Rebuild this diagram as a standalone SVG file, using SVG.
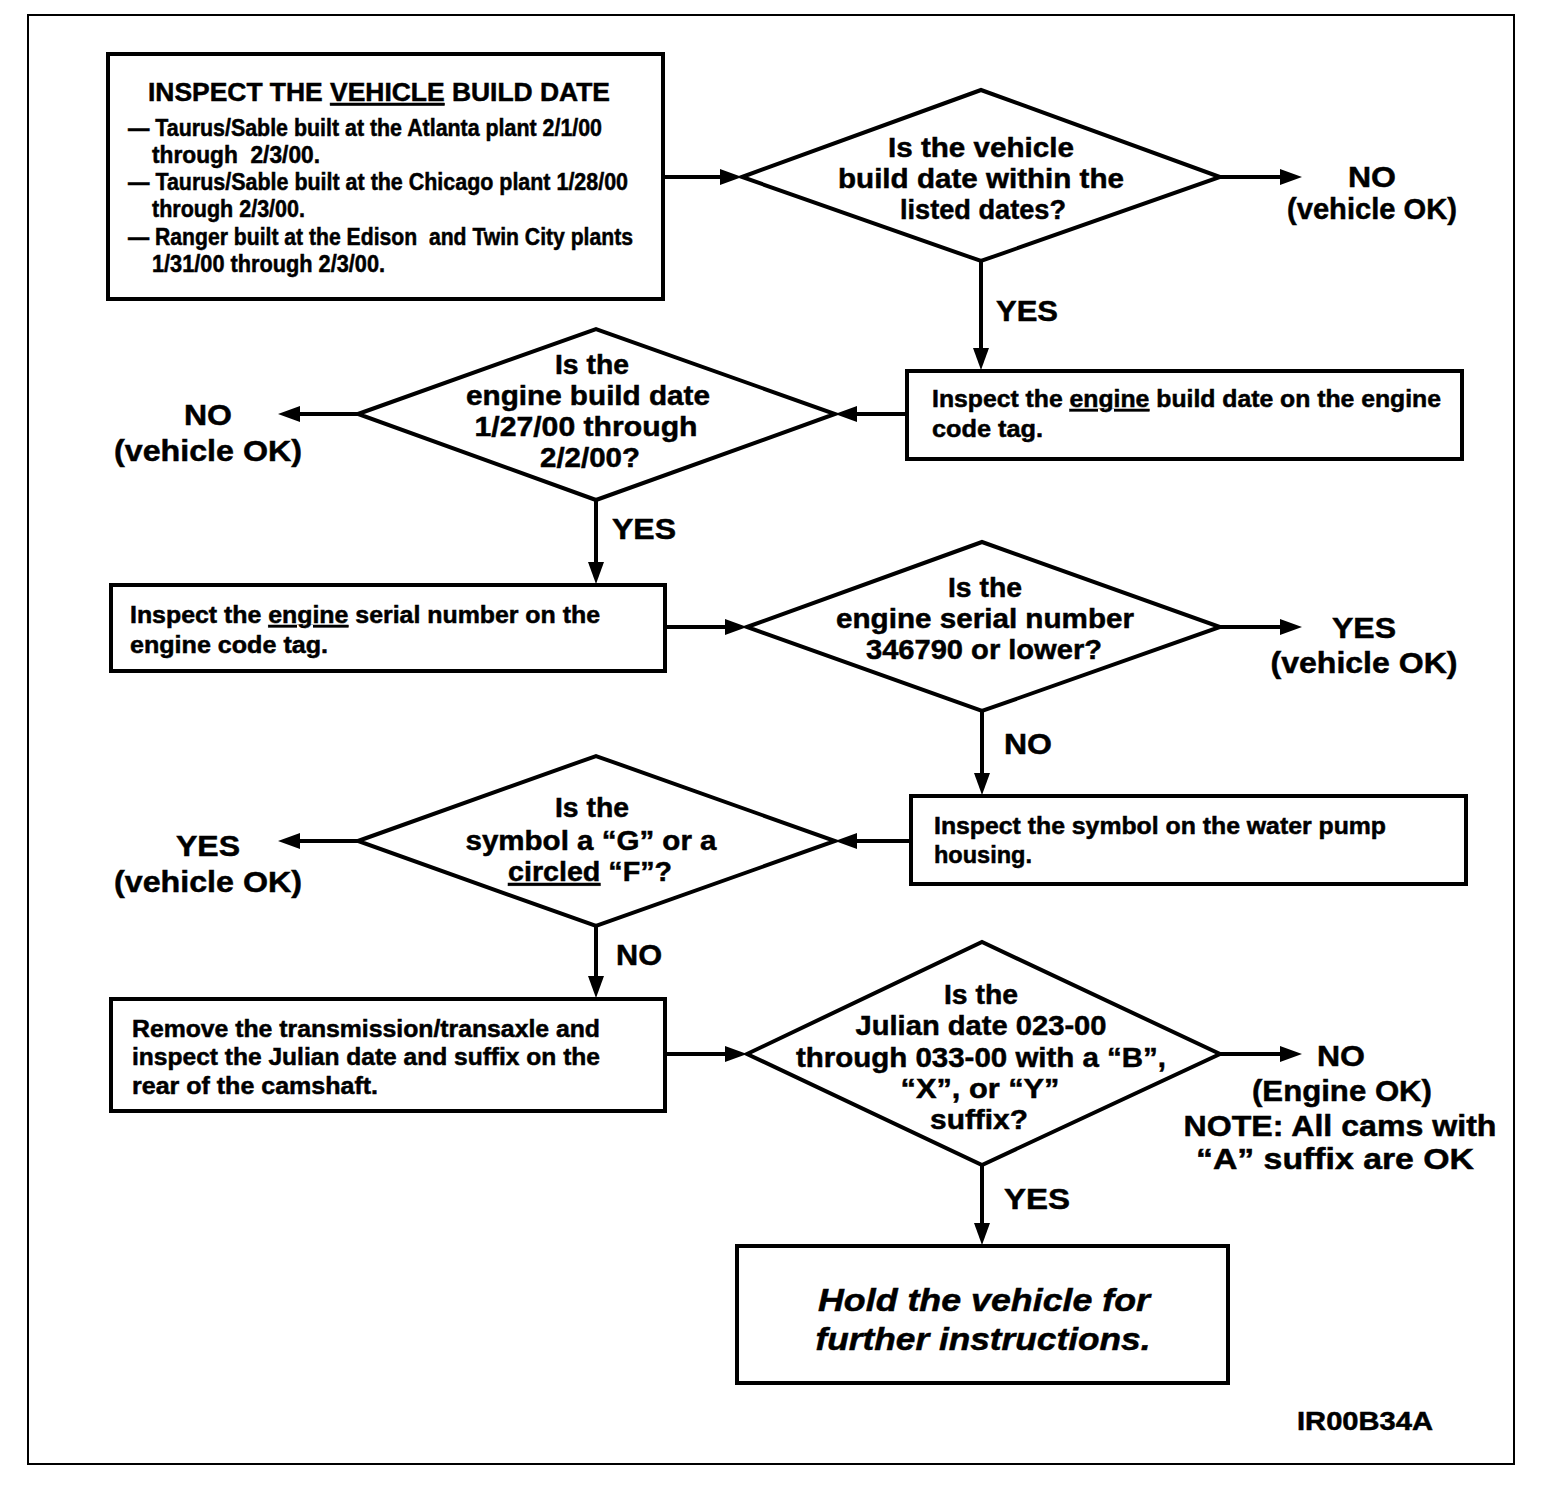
<svg xmlns="http://www.w3.org/2000/svg" width="1568" height="1498" viewBox="0 0 1568 1498">
<style>
.frame{fill:none;stroke:#000;stroke-width:2}
.box{fill:#fff;stroke:#000;stroke-width:4}
.dia{fill:#fff;stroke:#000;stroke-width:4;stroke-linejoin:miter}
.con{fill:none;stroke:#000;stroke-width:4}
text{font-family:"Liberation Sans",Arial,sans-serif;font-weight:bold;fill:#000;stroke:#000;stroke-width:0.5}
.t{font-size:23px}
.h{font-size:26px}
.q{font-size:28px;text-anchor:middle}
.lbl{font-size:30px;text-anchor:middle}
.it{font-size:32px;font-style:italic;text-anchor:middle}
.id{font-size:26px}
</style>
<defs>
<marker id="ah" markerUnits="userSpaceOnUse" markerWidth="24" markerHeight="18" refX="10" refY="8" orient="auto">
<path d="M0,0 L22,8 L0,16 z" fill="#000"/>
</marker>
</defs>
<rect class="frame" x="28" y="15" width="1486" height="1449"/>
<g id="connectors">
<path class="con" marker-end="url(#ah)" d="M663,177 L730,177"/>
<path class="con" marker-end="url(#ah)" d="M1220,177 L1290,177"/>
<path class="con" marker-end="url(#ah)" d="M981,261 L981,358"/>
<path class="con" marker-end="url(#ah)" d="M907,414 L847,414"/>
<path class="con" marker-end="url(#ah)" d="M358,414 L290,414"/>
<path class="con" marker-end="url(#ah)" d="M596,500 L596,572"/>
<path class="con" marker-end="url(#ah)" d="M665,627 L735,627"/>
<path class="con" marker-end="url(#ah)" d="M1220,627 L1290,627"/>
<path class="con" marker-end="url(#ah)" d="M982,711 L982,783"/>
<path class="con" marker-end="url(#ah)" d="M911,841 L847,841"/>
<path class="con" marker-end="url(#ah)" d="M358,841 L290,841"/>
<path class="con" marker-end="url(#ah)" d="M596,926 L596,986"/>
<path class="con" marker-end="url(#ah)" d="M665,1054 L735,1054"/>
<path class="con" marker-end="url(#ah)" d="M1220,1054 L1290,1054"/>
<path class="con" marker-end="url(#ah)" d="M982,1165 L982,1233"/>
</g>
<g id="box1">
<rect class="box" x="108" y="54" width="555" height="245"/>
<text class="h" x="148" y="101" textLength="462" lengthAdjust="spacingAndGlyphs">INSPECT THE <tspan text-decoration="underline">VEHICLE</tspan> BUILD DATE</text>
<text class="t" x="128" y="136" textLength="474" lengthAdjust="spacingAndGlyphs">— Taurus/Sable built at the Atlanta plant 2/1/00</text>
<text class="t" x="152" y="163" textLength="168" lengthAdjust="spacingAndGlyphs" xml:space="preserve">through  2/3/00.</text>
<text class="t" x="128" y="190" textLength="500" lengthAdjust="spacingAndGlyphs">— Taurus/Sable built at the Chicago plant 1/28/00</text>
<text class="t" x="152" y="217" textLength="153" lengthAdjust="spacingAndGlyphs">through 2/3/00.</text>
<text class="t" x="128" y="245" textLength="505" lengthAdjust="spacingAndGlyphs" xml:space="preserve">— Ranger built at the Edison  and Twin City plants</text>
<text class="t" x="152" y="272" textLength="233" lengthAdjust="spacingAndGlyphs">1/31/00 through 2/3/00.</text>
</g>
<g id="dec1">
<polygon class="dia" points="742,177 981,90 1220,177 981,261"/>
<text class="q" x="981" y="157" textLength="186" lengthAdjust="spacingAndGlyphs">Is the vehicle</text>
<text class="q" x="981" y="188" textLength="286" lengthAdjust="spacingAndGlyphs">build date within the</text>
<text class="q" x="983" y="219" textLength="166" lengthAdjust="spacingAndGlyphs">listed dates?</text>
</g>
<g id="out1">
<text class="lbl" x="1372" y="187" textLength="48" lengthAdjust="spacingAndGlyphs">NO</text>
<text class="lbl" x="1372" y="219" textLength="170" lengthAdjust="spacingAndGlyphs">(vehicle OK)</text>
</g>
<text class="lbl" x="1027" y="321" textLength="62" lengthAdjust="spacingAndGlyphs">YES</text>
<g id="box2">
<rect class="box" x="907" y="371" width="555" height="88"/>
<text class="t" x="932" y="407" textLength="509" lengthAdjust="spacingAndGlyphs">Inspect the <tspan text-decoration="underline">engine</tspan> build date on the engine</text>
<text class="t" x="932" y="437" textLength="111" lengthAdjust="spacingAndGlyphs">code tag.</text>
</g>
<g id="dec2">
<polygon class="dia" points="358,414 596,329 835,414 596,500"/>
<text class="q" x="592" y="374" textLength="74" lengthAdjust="spacingAndGlyphs">Is the</text>
<text class="q" x="588" y="405" textLength="244" lengthAdjust="spacingAndGlyphs">engine build date</text>
<text class="q" x="586" y="436" textLength="223" lengthAdjust="spacingAndGlyphs">1/27/00 through</text>
<text class="q" x="590" y="467" textLength="100" lengthAdjust="spacingAndGlyphs">2/2/00?</text>
</g>
<g id="out2">
<text class="lbl" x="208" y="425" textLength="48" lengthAdjust="spacingAndGlyphs">NO</text>
<text class="lbl" x="208" y="461" textLength="188" lengthAdjust="spacingAndGlyphs">(vehicle OK)</text>
</g>
<text class="lbl" x="644" y="539" textLength="64" lengthAdjust="spacingAndGlyphs">YES</text>
<g id="box3">
<rect class="box" x="111" y="585" width="554" height="86"/>
<text class="t" x="130" y="623" textLength="470" lengthAdjust="spacingAndGlyphs">Inspect the <tspan text-decoration="underline">engine</tspan> serial number on the</text>
<text class="t" x="130" y="653" textLength="198" lengthAdjust="spacingAndGlyphs">engine code tag.</text>
</g>
<g id="dec3">
<polygon class="dia" points="747,627 982,542 1220,627 982,711"/>
<text class="q" x="985" y="597" textLength="74" lengthAdjust="spacingAndGlyphs">Is the</text>
<text class="q" x="985" y="628" textLength="298" lengthAdjust="spacingAndGlyphs">engine serial number</text>
<text class="q" x="984" y="659" textLength="236" lengthAdjust="spacingAndGlyphs">346790 or lower?</text>
</g>
<g id="out3">
<text class="lbl" x="1364" y="638" textLength="64" lengthAdjust="spacingAndGlyphs">YES</text>
<text class="lbl" x="1364" y="673" textLength="187" lengthAdjust="spacingAndGlyphs">(vehicle OK)</text>
</g>
<text class="lbl" x="1028" y="754" textLength="48" lengthAdjust="spacingAndGlyphs">NO</text>
<g id="box4">
<rect class="box" x="911" y="796" width="555" height="88"/>
<text class="t" x="934" y="834" textLength="452" lengthAdjust="spacingAndGlyphs">Inspect the symbol on the water pump</text>
<text class="t" x="934" y="863" textLength="98" lengthAdjust="spacingAndGlyphs">housing.</text>
</g>
<g id="dec4">
<polygon class="dia" points="358,841 596,756 835,841 596,926"/>
<text class="q" x="592" y="817" textLength="74" lengthAdjust="spacingAndGlyphs">Is the</text>
<text class="q" x="591" y="850" textLength="251" lengthAdjust="spacingAndGlyphs">symbol a “G” or a</text>
<text class="q" x="590" y="881" textLength="164" lengthAdjust="spacingAndGlyphs"><tspan text-decoration="underline">circled</tspan> “F”?</text>
</g>
<g id="out4">
<text class="lbl" x="208" y="856" textLength="64" lengthAdjust="spacingAndGlyphs">YES</text>
<text class="lbl" x="208" y="892" textLength="188" lengthAdjust="spacingAndGlyphs">(vehicle OK)</text>
</g>
<text class="lbl" x="639" y="965" textLength="46" lengthAdjust="spacingAndGlyphs">NO</text>
<g id="box5">
<rect class="box" x="111" y="999" width="554" height="112"/>
<text class="t" x="132" y="1037" textLength="468" lengthAdjust="spacingAndGlyphs">Remove the transmission/transaxle and</text>
<text class="t" x="132" y="1065" textLength="468" lengthAdjust="spacingAndGlyphs">inspect the Julian date and suffix on the</text>
<text class="t" x="132" y="1094" textLength="246" lengthAdjust="spacingAndGlyphs">rear of the camshaft.</text>
</g>
<g id="dec5">
<polygon class="dia" points="747,1054 982,942 1220,1054 982,1165"/>
<text class="q" x="981" y="1004" textLength="74" lengthAdjust="spacingAndGlyphs">Is the</text>
<text class="q" x="981" y="1035" textLength="251" lengthAdjust="spacingAndGlyphs">Julian date 023-00</text>
<text class="q" x="981" y="1067" textLength="370" lengthAdjust="spacingAndGlyphs">through 033-00 with a “B”,</text>
<text class="q" x="980" y="1098" textLength="159" lengthAdjust="spacingAndGlyphs">“X”, or “Y”</text>
<text class="q" x="979" y="1129" textLength="98" lengthAdjust="spacingAndGlyphs">suffix?</text>
</g>
<g id="out5">
<text class="lbl" x="1341" y="1066" textLength="48" lengthAdjust="spacingAndGlyphs">NO</text>
<text class="lbl" x="1342" y="1101" textLength="180" lengthAdjust="spacingAndGlyphs">(Engine OK)</text>
<text class="lbl" x="1340" y="1136" textLength="313" lengthAdjust="spacingAndGlyphs">NOTE: All cams with</text>
<text class="lbl" x="1335" y="1169" textLength="278" lengthAdjust="spacingAndGlyphs">“A” suffix are OK</text>
</g>
<text class="lbl" x="1037" y="1209" textLength="66" lengthAdjust="spacingAndGlyphs">YES</text>
<g id="box6">
<rect class="box" x="737" y="1246" width="491" height="137"/>
<text class="it" x="984" y="1311" textLength="332" lengthAdjust="spacingAndGlyphs">Hold the vehicle for</text>
<text class="it" x="983" y="1350" textLength="335" lengthAdjust="spacingAndGlyphs">further instructions.</text>
</g>
<text class="id" x="1297" y="1430" textLength="136" lengthAdjust="spacingAndGlyphs">IR00B34A</text>
</svg>
